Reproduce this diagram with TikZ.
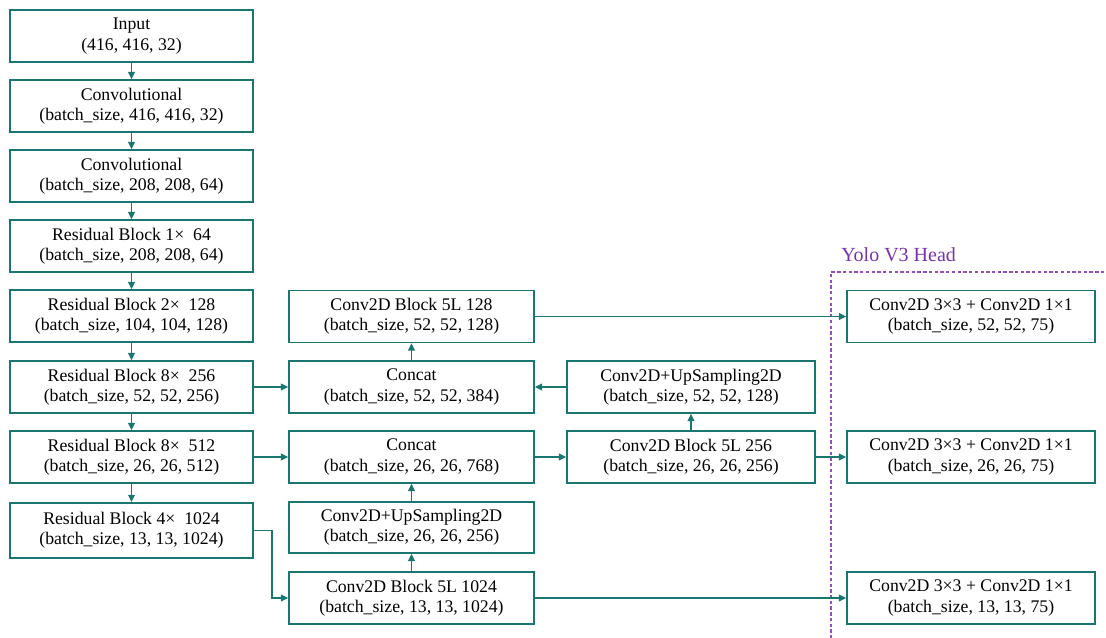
\documentclass[tikz,border=0pt]{standalone}
\usepackage{fontspec}
\setmainfont{Liberation Serif}
\usetikzlibrary{arrows.meta}
\definecolor{tealc}{RGB}{26,118,112}
\definecolor{purp}{RGB}{150,80,190}
\definecolor{purptext}{RGB}{120,50,170}
\begin{document}
\begin{tikzpicture}[x=0.75pt,y=-0.75pt,
  box/.style={draw=tealc, line width=1.1pt, minimum height=39pt, align=center, inner sep=0pt,
    font=\fontsize{13.3}{15.2}\selectfont},
  wl/.style={minimum width=182.25pt},
  wm/.style={minimum width=183.75pt},
  wr/.style={minimum width=186pt},
  conn/.style={draw=tealc, line width=1.1pt, -{Triangle[length=5.5pt,width=5pt]}}
]
\useasboundingbox (0,0) rectangle (1106,638);
% left column
\node[box,wl] (in) at (131.5,36) {Input\\(416, 416, 32)};
\node[box,wl] (cv1) at (131.5,106) {Convolutional\\(batch\_size, 416, 416, 32)};
\node[box,wl] (cv2) at (131.5,176) {Convolutional\\(batch\_size, 208, 208, 64)};
\node[box,wl] (r1) at (131.5,246) {Residual Block 1×~~64\\(batch\_size, 208, 208, 64)};
\node[box,wl] (r2) at (131.5,316) {Residual Block 2×~~128\\(batch\_size, 104, 104, 128)};
\node[box,wl] (r8a) at (131.5,387) {Residual Block 8×~~256\\(batch\_size, 52, 52, 256)};
\node[box,wl] (r8b) at (131.5,457) {Residual Block 8×~~512\\(batch\_size, 26, 26, 512)};
\node[box,wl,minimum height=41.5pt] (r4) at (131.5,530.5) {Residual Block 4×~~1024\\(batch\_size, 13, 13, 1024)};
% middle column
\node[box,wm] (c128) at (411.5,316.5) {Conv2D Block 5L 128\\(batch\_size, 52, 52, 128)};
\node[box,wm] (cat384) at (411.5,387) {Concat\\(batch\_size, 52, 52, 384)};
\node[box,wm] (cat768) at (411.5,457) {Concat\\(batch\_size, 26, 26, 768)};
\node[box,wm,minimum height=38.25pt] (up256) at (411.5,527.5) {Conv2D+UpSampling2D\\(batch\_size, 26, 26, 256)};
\node[box,wm] (c1024) at (411.5,598) {Conv2D Block 5L 1024\\(batch\_size, 13, 13, 1024)};
% third column
\node[box,wr] (up128) at (691,387) {Conv2D+UpSampling2D\\(batch\_size, 52, 52, 128)};
\node[box,wr] (c256) at (691,457) {Conv2D Block 5L 256\\(batch\_size, 26, 26, 256)};
% head column
\node[box,wr] (h52) at (971,316.5) {Conv2D 3×3 + Conv2D 1×1\\(batch\_size, 52, 52, 75)};
\node[box,wr] (h26) at (971,457) {Conv2D 3×3 + Conv2D 1×1\\(batch\_size, 26, 26, 75)};
\node[box,wr] (h13) at (971,598) {Conv2D 3×3 + Conv2D 1×1\\(batch\_size, 13, 13, 75)};
% Yolo head dashed region
\coordinate (dtl) at (831,272);
\draw[purp, line width=1pt, dash pattern=on 2.5pt off 1.8pt] (1110,272) -- (dtl) -- (831,642);
\node[anchor=west, text=purptext, font=\fontsize{15}{17}\selectfont, inner sep=0pt] (yl) at (841,255) {Yolo V3 Head};
% connectors
\draw[conn] (in) -- (cv1);
\draw[conn] (cv1) -- (cv2);
\draw[conn] (cv2) -- (r1);
\draw[conn] (r1) -- (r2);
\draw[conn] (r2) -- (r8a);
\draw[conn] (r8a) -- (r8b);
\draw[conn] (r8b) -- (r4);
\draw[conn] (r8a) -- (cat384);
\draw[conn] (r8b) -- (cat768);
\coordinate (e1) at (272,530.5);
\coordinate (e2) at (272,598);
\draw[conn] (r4.east) -- (e1) -- (e2) -- (c1024.west);
\draw[conn] (c1024) -- (up256);
\draw[conn] (up256) -- (cat768);
\draw[conn] (cat384) -- (c128);
\draw[conn] (cat768) -- (c256);
\draw[conn] (c256) -- (up128);
\draw[conn] (up128) -- (cat384);
\draw[conn] (c128) -- (h52);
\draw[conn] (c256) -- (h26);
\draw[conn] (c1024) -- (h13);
\end{tikzpicture}
\end{document}
